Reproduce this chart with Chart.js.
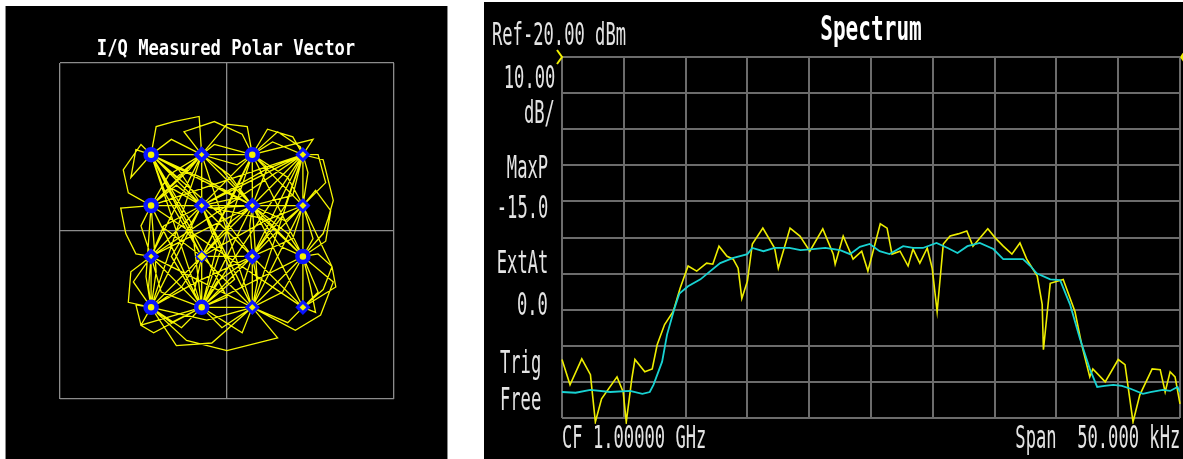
<!DOCTYPE html>
<html>
<head>
<meta charset="utf-8">
<script src="https://cdn.jsdelivr.net/npm/chart.js@4.4.1/dist/chart.umd.min.js"></script>
<style>
  html, body { margin: 0; padding: 0; background: #fff; width: 1183px; height: 459px; overflow: hidden; position: relative; }
  .panel { position: absolute; background: #000; }
  #iqPanel { left: 5px; top: 6px; width: 441px; height: 453px; border-left: 1px solid #8a8a8a; border-right: 1px solid #8a8a8a; }
  #specPanel { left: 484px; top: 2px; width: 699px; height: 457px; }
  .panel canvas { position: absolute; left: 0; top: 0; }
  .t { position: absolute; font-family: "DejaVu Sans Mono", monospace; color: #e4e4e4; white-space: pre; line-height: 1; font-size: 32px; }
  .l { transform-origin: left top; transform: scaleX(0.535); }
  .r { transform-origin: right top; transform: scaleX(0.535); }
  .title { font-weight: bold; color: #fff; }
</style>
</head>
<body>
<div class="panel" id="iqPanel"><canvas id="iq" width="441" height="453"></canvas></div>
<div class="panel" id="specPanel"><canvas id="spec" width="699" height="457"></canvas></div>

<!-- annotation text -->
<div class="t title" style="left:226px; top:37px; font-size:22px; transform-origin:center top; transform:translateX(-50%) scaleX(0.78);">I/Q Measured Polar Vector</div>
<div class="t title" style="left:871px; top:11px; font-size:34px; transform-origin:center top; transform:translateX(-50%) scaleX(0.62);">Spectrum</div>
<div class="t l" style="left:492px; top:18px;">Ref-20.00 dBm</div>
<div class="t r" style="right:628px; top:61px;">10.00</div>
<div class="t r" style="right:628px; top:96px;">dB/</div>
<div class="t r" style="right:635px; top:151px;">MaxP</div>
<div class="t r" style="right:635px; top:191px;">-15.0</div>
<div class="t r" style="right:635px; top:246px;">ExtAt</div>
<div class="t r" style="right:635px; top:288px;">0.0</div>
<div class="t l" style="left:500px; top:346px;">Trig</div>
<div class="t l" style="left:500px; top:383px;">Free</div>
<div class="t l" style="left:562px; top:421px;">CF 1.00000 GHz</div>
<div class="t r" style="right:3px; top:421px;">Span  50.000 kHz</div>

<script>
// ---- 16-QAM constellation (I, Q) and marker styles ----
const constI = [-3, -1, 1, 3, -3, -1, 1, 3, -3, -1, 1, 3, -3, -1, 1, 3];
const constQ = [ 3,  3, 3, 3,  1,  1, 1, 1, -1, -1, -1, -1, -3, -3, -3, -3];
const constStyle = ['circle','rectRot','circle','rectRot','circle','rectRot','rectRot','rectRot',
                    'rectRot','rectRot','rectRot','circle','circle','circle','rectRot','rectRot'];
const constRing = [4.5, 4, 4.5, 3, 4.5, 4, 4, 3, 4, 1.5, 4, 4.5, 4.5, 4.5, 3, 3];

// ---- measured I/Q vector trajectory ----
const iqPath = [
  [-3,3],[-1,1],[0.3,-1.9],[-1,-3],[-2.2,-1.0],[-1,1],[1,3],[2.0,3.9],[2.9,3.3],[3,3],
  [1,1],[-1,-3],[-2.9,-4.0],[-3.4,-3.7],[-3,-3],[-1,-1],[1,1],[3,-1],[3.6,-0.9],[4.15,-1.4],
  [3.8,-2.3],[3,-3],[1,-1],[-1,1],[-3,3],[-1.4,0.3],[-1,-3],[1,-3],[2.0,-4.2],[0,-4.7],
  [-1.6,-4.3],[-3,-3],[-3,-1],[-3.6,-0.9],[-4.0,-0.1],[-4.2,0.9],[-3,1],[-1,3],[-1.1,4.5],[-2.1,4.3],
  [-2.8,4.1],[-3,3],[1,-1],[1,-3],[-1,1],[1,1],[3,3],[3.8,2.8],[4.2,1.2],[4.0,0.5],
  [3.8,-0.1],[3,-1],[1,3],[-1,-1],[-3,3],[-1,3],[1,1],[-1,-3],[-3,1],[-1,1],
  [1,-1],[3,1],[3,-3],[-1,1],[-1,3],[1,3],[0.8,4.1],[0,4.2],[-1,3],[-3,-1],
  [-1,-3],[1,1],[3,3],[1,-3],[-1,1],[-3,-3],[-3.2,-1.8],[-3,1],[3,3],[3,1],
  [1,-3],[-1,3],[-3,-3],[1,1],[1,3],[-1,-1],[-1,-3],[3,3],[-3,-1],[1,1],
  [3,-3],[3.5,-3.2],[3.3,-2.2],[3,-1],[-1,-3],[-3,3],[-3.8,2.1],[-3.6,3.2],[-3,3],[1,1],
  [-1,-3],[1,-1],[3,3],[-1,-1],[-3,-3],[-1,3],[1,1],[3,1],[-3,1],[-1,-3],
  [-3.4,-3.7],[-3.6,-2.9],[-3,-3],[-1,1],[1,-3],[3,-1],[1,1],[-1,-3],[-3,3],[1,1],
  [3,-3],[4.3,-2.2],[4.15,-1.4],[3,1],[1,3],[-3,-1],[-1,1],[1,-3],[3,3],[-1,-3],
  [-3,1],[1,1],[-1,3],[-2,2.1],[-3,3],[1,-1],[-1,-3],[1,1],[3,-1],[-1,3],
  [-3,-3],[-2.8,-1.6],[-3,1],[3,-3],[1,-1],[-1,1],[-3,3],[0,-2.6],[-1,-3],[1,3],
  [3.4,3.6],[3,3],[-1,1],[-3,-1],[1,-3],[1.2,-2.0],[1,1],[-3,3],
  [-2.2,3.6],[-1,3],[0.1,2.2],[1,1],[2.3,0.4],[3,1],[3.9,1.9],[3.6,3.0],[3,3],[1.5,2.4],
  [-1,1],[-2.5,0.2],[-3,-1],[-3.1,-2.2],[-3,-3],[-1.8,-2.2],[-1,-1],[0.2,0.4],[1,1],[1.6,2.5],
  [1,3],[-0.5,3.4],[-1,3],[-2.3,2.2],[-3,1],[-3.9,1.5],[-4.1,2.4],[-3.4,3.4],[-3,3],[-0.8,2.0],
  [1,1],[2.1,-0.6],[3,-1],[3.9,-0.4],[4.1,0.8],[3.5,1.6],[3,1],[1.5,0.4],[-1,-1],[-2.4,-2.4],
  [-3,-3],[-2.2,-3.6],[-1,-3],[0.6,-2.2],[1,-1],[0.9,0.2],[1,1],[-0.2,2.4],[-1,3],[-1.7,3.9],
  [-0.5,4.3],[0.6,3.8],[1,3],[2.4,2.1],[3,1],[3.4,-0.3],[3,-1],[2.2,-2.4],[1,-3],[-0.2,-3.8],
  [-1,-3],[-2.1,-1.9],[-3,-1],[-3.8,-1.6],[-3.9,-2.8],[-3,-3],[-1.2,-2.0],[1,-1],[2.6,-0.3],[3,1],
  [3.2,2.3],[3,3],[1.8,3.5],[1,3],[0.3,1.5],[-1,-1],[-1.3,-2.4],[-1,-3],[0.6,-4.0],[1,-3],
  [1.9,-2.1],[3,-1],[2.4,-0.1],[1,1],[-0.6,0.9],[-1,1],[-1.9,2.4],[-3,3],[-2.4,1.4],[-1,-1],
  [0.2,-2.2],[1,-3],[2.4,-3.6],[3,-3],[3.6,-2.4],[3,-1],[1.4,0.5],[-1,1],[-2.4,1.8],[-3,3],
  [-0.2,0.6],[1,-1],[1.2,-2.0],[1,-3],[-0.8,-3.5],[-3,-3],[-3.7,-2.0],[-3,-1],[-1.6,0.4],[-1,1],
  [0.4,1.3],[1,1],[2.6,1.4],[3,3],[2.3,1.0],[1,-1],[-0.4,-2.0],[-1,-3],[-2.6,-2.4],[-3,-1],
  [-3.4,0.2],[-3,1],[-1.5,2.4],[-1,3],[0.4,2.6],[1,3],[1.6,4.0],[2.6,3.7],[3,3],[2.2,0.6],
  [1,-1],[-1,-1],[-2.6,0.2],[-3,1],[-2.0,1.8],[-1,1],[-0.4,-0.6],[-1,-3],[-1.8,-3.8],[-3,-3],
  [-2.0,-4.5],[-0.6,-4.4],[1,-3],[2.7,-3.9],[3.7,-3.3],[4.2,-2.0],[3,-1]
];
const iqLimits = [-6.6, 0, 6.6];

// ---- spectrum traces: [frequency offset kHz, level dBm] ----
const cyanTrace = [
  [-25.0,-112.8],[-23.9,-113.0],[-22.7,-112.2],[-21.1,-112.8],[-19.5,-112.5],[-18.5,-113.3],[-17.9,-112.8],
  [-17.6,-110.8],[-16.9,-104.4],[-16.5,-96.9],[-15.9,-89.6],[-15.5,-85.5],[-14.8,-83.5],[-13.8,-81.6],
  [-13.0,-79.3],[-12.2,-77.1],[-11.2,-75.7],[-10.0,-74.6],[-9.6,-72.9],[-8.7,-73.8],[-7.8,-72.9],
  [-6.6,-72.9],[-5.7,-73.5],[-4.7,-73.2],[-3.7,-72.9],[-2.5,-73.5],[-1.7,-74.6],[-0.9,-72.6],
  [-0.1,-71.8],[0.7,-73.8],[1.5,-74.6],[2.6,-72.4],[3.4,-72.9],[4.2,-72.9],[5.3,-71.5],
  [6.2,-72.9],[7.0,-74.3],[7.8,-72.4],[8.8,-71.5],[9.9,-73.2],[10.7,-76.0],[11.5,-76.0],
  [12.3,-76.0],[12.9,-77.9],[13.4,-79.9],[14.5,-81.6],[15.3,-81.8],[16.1,-88.5],[16.9,-98.0],
  [17.7,-106.4],[18.3,-111.4],[18.9,-111.1],[19.6,-110.8],[20.3,-111.1],[21.0,-111.9],[22.0,-113.3],
  [22.6,-112.8],[23.6,-112.2],[24.2,-112.5],[24.8,-111.4],[25.0,-112.8]
];
const yellowTrace = [
  [-25.0,-103.8],[-24.35,-110.8],[-23.4,-103.6],[-22.7,-108.0],[-22.3,-121.1],[-21.8,-114.7],[-20.55,-108.6],
  [-20.05,-112.8],[-19.8,-121.1],[-19.35,-109.1],[-19.1,-103.8],[-18.3,-107.2],[-17.7,-106.4],[-17.3,-99.7],
  [-16.7,-94.1],[-16.0,-90.5],[-15.45,-84.1],[-14.8,-77.9],[-14.1,-79.3],[-13.3,-77.1],[-12.8,-77.4],
  [-12.3,-72.4],[-11.65,-75.2],[-11.15,-76.0],[-10.75,-78.5],[-10.45,-86.9],[-10.0,-82.1],[-9.6,-71.8],
  [-8.75,-67.4],[-7.8,-72.9],[-7.5,-78.5],[-6.55,-67.4],[-5.75,-69.6],[-4.95,-73.8],[-3.9,-67.6],
  [-3.05,-74.6],[-2.9,-77.4],[-2.25,-69.6],[-1.45,-76.0],[-0.75,-73.8],[-0.25,-79.3],[0.75,-66.2],
  [1.3,-67.4],[1.7,-74.6],[2.35,-73.8],[3.0,-77.9],[3.4,-73.2],[3.95,-77.1],[4.55,-72.9],
  [4.95,-78.5],[5.35,-90.5],[5.85,-71.8],[6.4,-69.6],[7.05,-69.0],[7.75,-68.2],[8.25,-72.4],
  [9.45,-67.6],[10.05,-70.1],[10.7,-72.4],[11.4,-74.6],[12.05,-71.5],[12.6,-76.0],[13.45,-80.7],
  [13.85,-88.5],[13.95,-101.1],[14.5,-82.7],[15.55,-81.6],[16.5,-90.5],[17.05,-99.7],[17.7,-108.6],
  [17.95,-106.4],[18.95,-110.0],[20.0,-103.8],[20.55,-105.2],[21.2,-121.1],[21.75,-113.6],[22.75,-106.4],
  [23.4,-106.6],[23.8,-112.8],[24.2,-107.2],[24.6,-108.6],[25.0,-116.1]
];
const freqRange = [-25, 25, 5];      // kHz: min, max, per division
const levelRange = [-120, -20, 10];  // dBm: min, max, dB per division

const toXY = arr => arr.map(p => ({ x: p[0], y: p[1] }));

// ---------- I/Q polar vector chart ----------
const iqAxis = {
  type: 'linear', min: iqLimits[0], max: iqLimits[2],
  afterBuildTicks: s => { s.ticks = iqLimits.map(v => ({ value: v })); },
  ticks: { display: false },
  grid: { color: '#8c8c8c', lineWidth: 1.3, drawTicks: false },
  border: { display: false }
};

new Chart(document.getElementById('iq'), {
  type: 'scatter',
  data: {
    datasets: [
      {
        label: 'Symbols',
        data: constI.map((v, i) => ({ x: v, y: constQ[i] })),
        pointStyle: constStyle,
        pointRadius: 5.5,
        pointBorderWidth: constRing,
        pointBorderColor: '#0a14ff',
        pointBackgroundColor: '#f4f400',
        showLine: false
      },
      {
        label: 'Vector',
        data: toXY(iqPath),
        showLine: true,
        borderColor: '#f6f600',
        borderWidth: 1.3,
        pointRadius: 0,
        tension: 0
      }
    ]
  },
  options: {
    responsive: false,
    animation: false,
    layout: { padding: { left: 54, right: 53, top: 57, bottom: 60 } },
    plugins: { legend: { display: false }, tooltip: { enabled: false } },
    scales: { x: iqAxis, y: { ...iqAxis } }
  }
});

// ---------- spectrum chart ----------
const refMarkers = {
  id: 'refMarkers',
  afterDraw(chart) {
    const { ctx, chartArea: a } = chart;
    ctx.save();
    ctx.strokeStyle = '#f0f000';
    ctx.fillStyle = '#f0f000';
    ctx.lineWidth = 2;
    ctx.beginPath();
    ctx.moveTo(a.left - 5, a.top - 7);
    ctx.lineTo(a.left, a.top);
    ctx.lineTo(a.left - 5, a.top + 7);
    ctx.stroke();
    ctx.beginPath();
    ctx.moveTo(a.right + 4, a.top - 6);
    ctx.lineTo(a.right + 8, a.top);
    ctx.lineTo(a.right + 4, a.top + 6);
    ctx.lineTo(a.right, a.top);
    ctx.closePath();
    ctx.fill();
    ctx.restore();
  }
};

const specGrid = { color: '#6c6c6c', lineWidth: 2, drawTicks: false };

new Chart(document.getElementById('spec'), {
  type: 'line',
  data: {
    datasets: [
      {
        label: 'Average',
        data: toXY(cyanTrace),
        borderColor: '#18d2d2',
        borderWidth: 1.8,
        pointRadius: 0,
        tension: 0
      },
      {
        label: 'Max hold',
        data: toXY(yellowTrace),
        borderColor: '#eeee00',
        borderWidth: 1.6,
        pointRadius: 0,
        tension: 0,
        clip: 6
      }
    ]
  },
  options: {
    responsive: false,
    animation: false,
    layout: { padding: { left: 78, right: 3, top: 55, bottom: 41 } },
    plugins: { legend: { display: false }, tooltip: { enabled: false } },
    scales: {
      x: { type: 'linear', min: freqRange[0], max: freqRange[1],
           ticks: { display: false, stepSize: freqRange[2] }, grid: specGrid, border: { display: false } },
      y: { type: 'linear', min: levelRange[0], max: levelRange[1],
           ticks: { display: false, stepSize: levelRange[2] }, grid: specGrid, border: { display: false } }
    }
  },
  plugins: [refMarkers]
});
</script>
</body>
</html>
